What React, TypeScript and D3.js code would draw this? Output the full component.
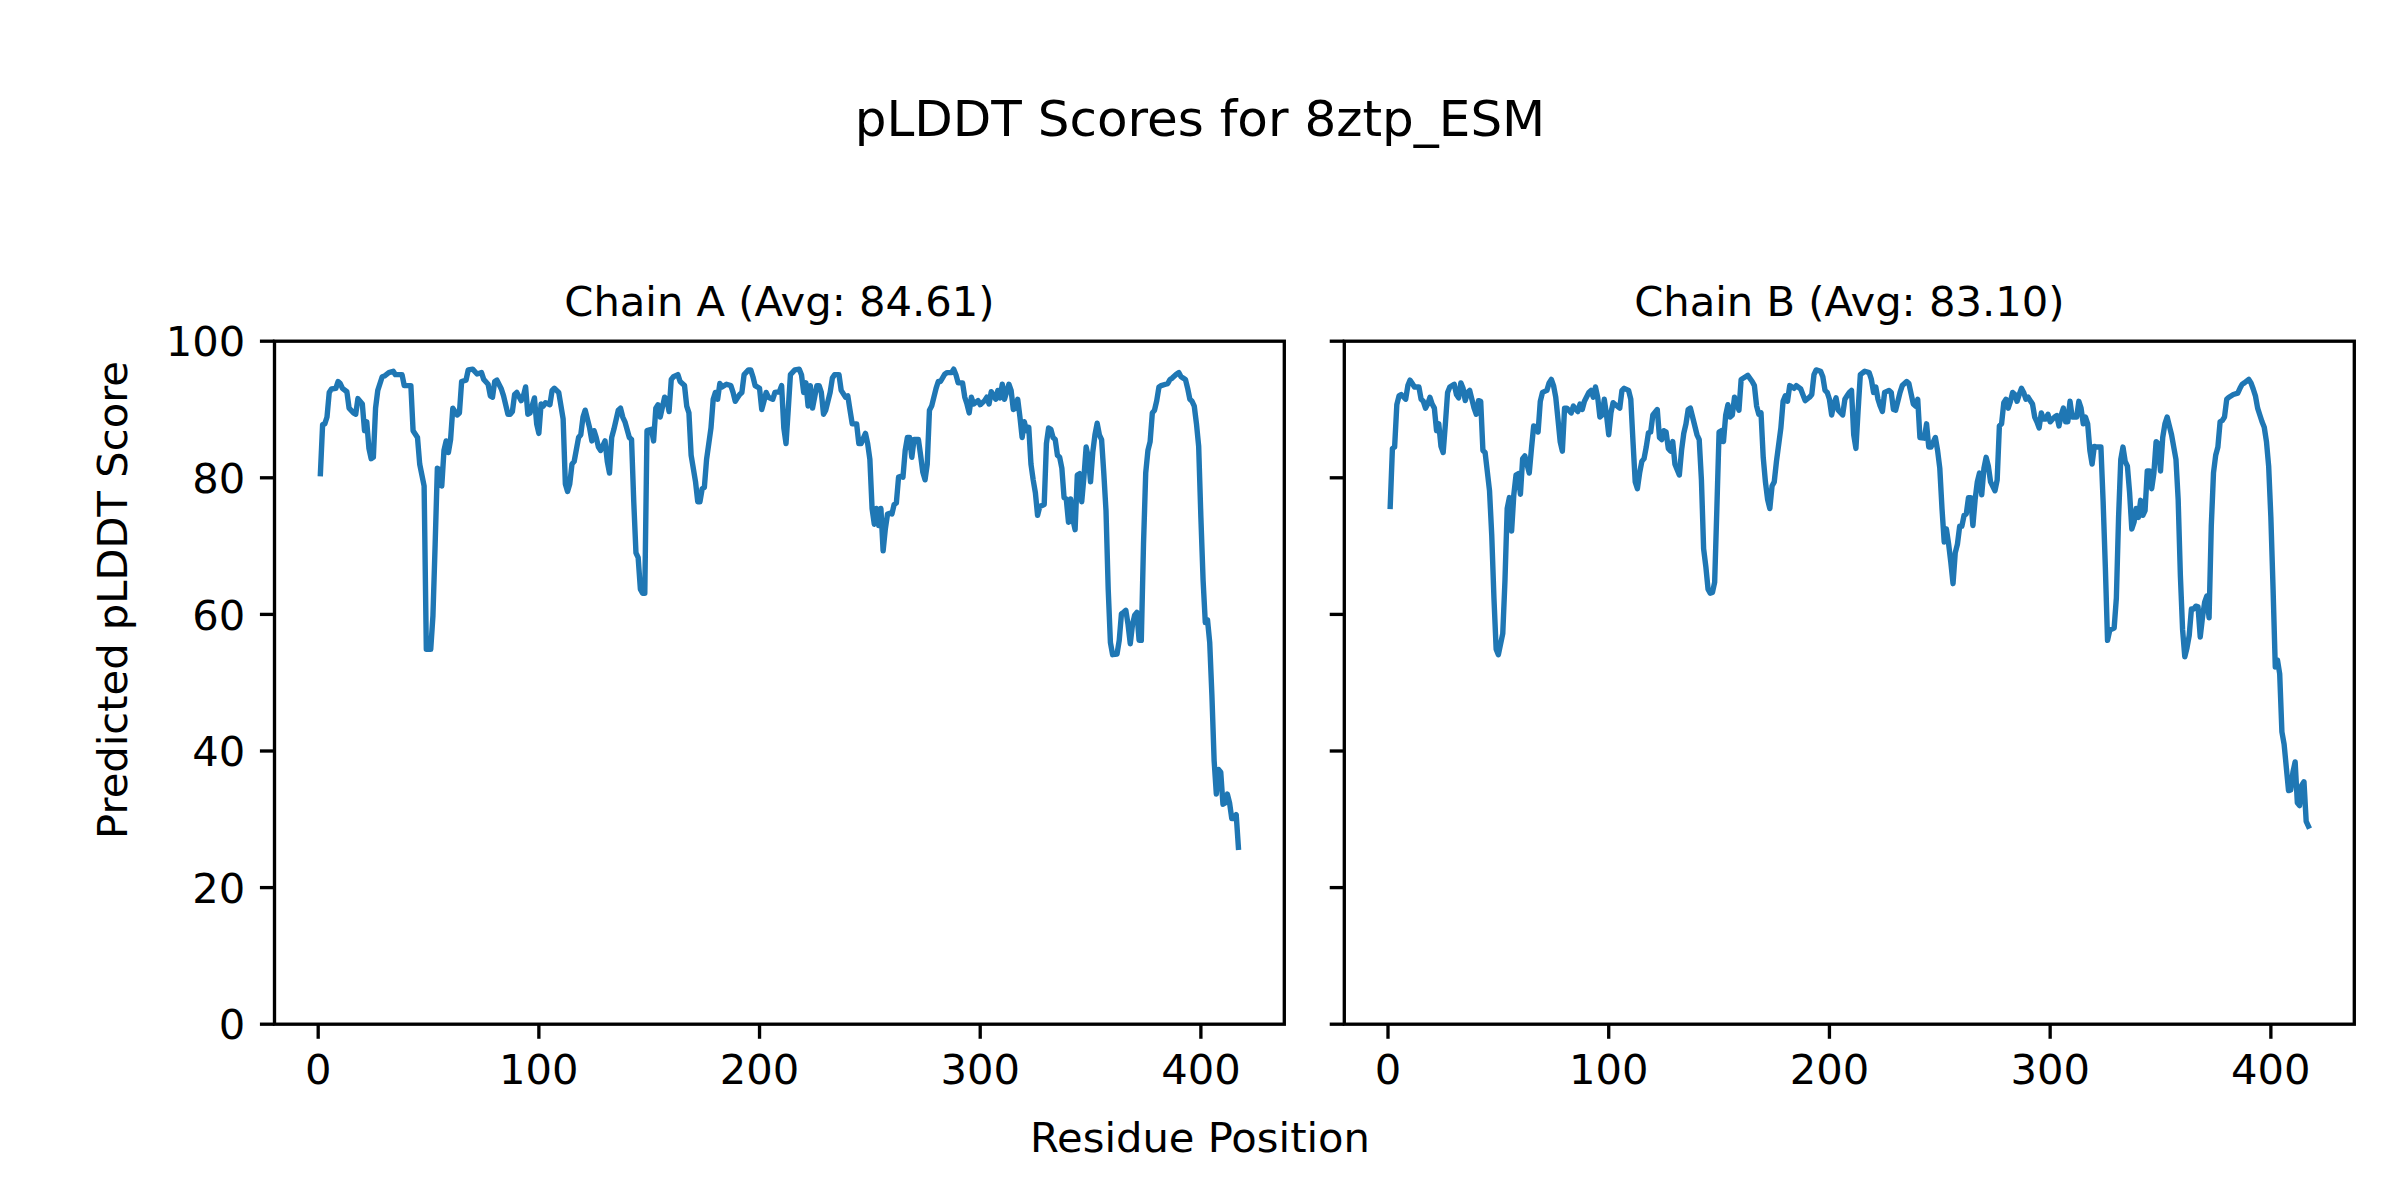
import React from 'react';
import * as d3 from 'd3';

// ---- data ----
const figureTitle = 'pLDDT Scores for 8ztp_ESM';
const chainTitles = ['Chain A (Avg: 84.61)', 'Chain B (Avg: 83.10)'];
const xLabel = 'Residue Position';
const yLabel = 'Predicted pLDDT Score';
const xTickValues = [0, 100, 200, 300, 400];
const yTickValues = [0, 20, 40, 60, 80, 100];
const residueRange = [1, 417];

// [residue, pLDDT]
const chainAPoints: [number, number][] = [[1,80.6],[2,87.8],[3,87.9],[4,88.9],[5,92.5],[6,93.0],[8,93.1],[9,94.1],[10,93.8],[11,93.1],[13,92.6],[14,90.2],[16,89.5],[17,89.3],[18,91.6],[20,90.8],[21,86.9],[22,88.2],[23,84.3],[24,82.8],[25,83.0],[26,90.2],[27,92.8],[29,94.8],[30,94.9],[32,95.4],[34,95.6],[35,95.1],[38,95.1],[39,93.5],[41,93.5],[42,93.5],[43,86.9],[45,85.9],[46,82.0],[48,78.8],[49,54.9],[51,54.9],[52,59.8],[53,70.3],[54,81.4],[55,81.2],[56,78.8],[57,84.0],[58,85.4],[59,83.7],[60,85.6],[61,90.2],[63,89.2],[64,89.5],[65,94.1],[67,94.3],[68,95.8],[70,95.9],[72,95.2],[74,95.4],[75,94.4],[77,93.7],[78,92.0],[79,91.8],[80,94.1],[81,94.3],[83,93.0],[84,92.0],[86,89.3],[87,89.3],[88,89.7],[89,92.2],[90,92.5],[92,91.3],[93,92.0],[94,93.3],[95,89.3],[96,89.5],[98,91.7],[99,87.9],[100,86.5],[101,90.8],[102,90.5],[103,91.0],[105,90.7],[106,92.8],[107,93.1],[109,92.5],[111,88.6],[112,79.1],[113,78.0],[114,79.1],[115,82.0],[116,82.4],[118,85.9],[119,86.3],[120,88.9],[121,89.9],[123,87.3],[124,85.4],[125,86.9],[126,85.9],[127,84.5],[128,84.0],[130,85.4],[131,82.4],[132,80.7],[133,85.9],[134,87.1],[136,89.9],[137,90.2],[138,88.9],[139,88.2],[141,85.9],[142,85.6],[143,76.5],[144,69.0],[145,68.3],[146,63.7],[147,63.1],[148,63.1],[149,86.9],[151,87.1],[152,85.4],[153,90.2],[154,90.7],[155,88.9],[157,91.8],[158,91.5],[159,89.7],[160,94.4],[161,94.8],[163,95.1],[164,94.1],[166,93.5],[167,90.5],[168,89.5],[169,83.3],[171,79.4],[172,76.5],[173,76.5],[174,78.4],[175,78.6],[176,82.7],[178,87.3],[179,91.5],[180,92.5],[181,91.5],[182,93.8],[183,93.3],[185,93.7],[187,93.5],[188,92.5],[189,91.2],[190,91.7],[191,92.2],[192,92.5],[193,95.1],[195,95.8],[196,95.8],[197,94.8],[198,93.5],[200,93.1],[201,90.0],[202,91.2],[203,92.5],[204,91.8],[206,91.5],[207,92.5],[209,92.6],[210,93.5],[211,87.3],[212,85.0],[213,89.9],[214,95.1],[216,95.8],[218,95.9],[219,95.1],[220,92.5],[221,93.9],[222,90.5],[223,93.5],[224,90.2],[226,93.5],[227,93.5],[228,92.5],[229,89.3],[230,89.9],[232,92.5],[233,94.6],[234,95.1],[236,95.1],[237,92.8],[239,91.8],[240,92.0],[241,89.9],[242,87.9],[244,87.9],[245,85.0],[246,85.0],[248,86.5],[249,85.0],[250,82.7],[251,75.5],[252,73.2],[253,75.5],[254,73.0],[255,75.5],[256,69.3],[257,72.5],[258,74.7],[259,74.8],[260,74.7],[261,76.1],[262,76.3],[263,80.1],[264,80.2],[265,80.1],[266,84.0],[267,85.9],[268,85.9],[269,83.0],[270,85.6],[272,85.6],[273,83.3],[274,80.8],[275,79.7],[276,82.0],[277,89.9],[278,90.5],[280,93.1],[281,94.1],[282,94.1],[284,95.2],[285,95.4],[287,95.4],[288,95.9],[289,95.1],[290,93.9],[292,93.9],[293,91.8],[294,90.8],[295,89.5],[296,91.8],[297,90.8],[299,91.3],[300,90.7],[302,91.3],[303,91.8],[304,90.8],[305,92.6],[307,91.5],[308,92.8],[309,91.7],[310,93.7],[311,91.5],[313,93.7],[314,92.8],[315,90.0],[316,90.2],[317,91.5],[318,88.9],[319,85.9],[320,88.2],[321,86.9],[322,87.4],[323,82.0],[324,79.7],[325,77.8],[326,74.5],[327,75.8],[329,76.1],[330,85.0],[331,87.3],[332,87.1],[333,85.9],[334,85.6],[335,83.3],[336,83.0],[337,81.4],[338,77.1],[339,76.9],[340,73.5],[341,76.9],[342,73.9],[343,72.4],[344,80.4],[345,80.6],[346,76.5],[347,80.1],[348,84.5],[349,83.0],[350,79.4],[351,83.7],[352,86.3],[353,88.0],[354,86.3],[355,85.6],[356,80.7],[357,75.2],[358,63.7],[359,55.9],[360,54.1],[362,54.2],[363,56.2],[364,60.1],[365,60.3],[366,60.6],[367,58.5],[368,55.7],[369,58.5],[370,59.9],[371,60.3],[372,56.2],[373,56.2],[374,70.3],[375,80.7],[376,84.0],[377,85.3],[378,89.5],[379,89.9],[380,91.3],[381,93.3],[382,93.5],[384,93.7],[385,93.8],[386,94.4],[387,94.6],[389,95.2],[390,95.4],[391,94.8],[392,94.6],[393,94.4],[394,93.1],[395,91.5],[396,91.2],[397,90.5],[398,87.9],[399,84.6],[400,74.2],[401,65.0],[402,58.8],[403,59.2],[404,55.9],[405,48.1],[406,38.6],[407,33.7],[408,37.3],[409,36.9],[410,32.2],[411,32.4],[412,33.7],[413,32.4],[414,30.1],[415,30.1],[416,30.7],[417,25.9]];

const chainBPoints: [number, number][] = [[1,75.8],[2,84.3],[3,84.5],[4,90.7],[5,92.0],[6,92.2],[8,91.5],[9,93.5],[10,94.3],[11,93.8],[12,93.3],[14,93.3],[15,91.5],[16,91.2],[17,90.2],[18,90.8],[19,91.8],[20,90.8],[21,90.2],[22,86.9],[23,87.9],[24,84.6],[25,83.7],[26,87.9],[27,92.5],[28,93.3],[30,93.7],[31,92.2],[32,91.7],[33,93.9],[34,93.1],[35,91.3],[36,92.5],[37,92.8],[39,90.2],[40,89.3],[41,91.3],[42,91.2],[43,84.0],[44,83.7],[46,78.1],[47,71.6],[48,62.4],[49,54.9],[50,54.1],[52,57.2],[53,65.0],[54,75.5],[55,77.1],[56,72.2],[57,77.5],[58,80.4],[59,80.6],[60,77.6],[61,82.8],[62,83.2],[64,80.7],[65,84.3],[66,87.6],[67,87.4],[68,86.7],[69,91.2],[70,92.5],[72,92.8],[73,93.9],[74,94.4],[75,93.5],[76,91.8],[77,88.6],[78,85.3],[79,83.9],[80,90.2],[81,90.2],[83,89.5],[84,90.5],[86,89.7],[87,90.8],[88,90.0],[89,91.2],[91,92.5],[92,92.8],[93,91.8],[94,93.3],[95,91.8],[96,88.9],[97,89.2],[98,91.5],[99,89.2],[100,86.3],[101,89.5],[102,91.0],[103,90.7],[105,90.2],[106,92.8],[107,93.1],[109,92.8],[110,91.5],[111,85.3],[112,79.4],[113,78.4],[114,80.7],[115,82.4],[116,82.8],[117,84.5],[118,86.6],[119,86.7],[120,89.2],[122,90.0],[123,85.9],[124,85.6],[125,86.9],[126,86.7],[127,84.3],[128,83.9],[129,85.3],[130,82.0],[132,80.4],[133,84.0],[134,86.5],[135,87.9],[136,90.0],[137,90.2],[138,88.9],[140,86.3],[141,85.6],[142,79.7],[143,69.6],[144,67.0],[145,63.7],[146,63.1],[147,63.2],[148,64.7],[149,75.5],[150,86.7],[151,86.9],[152,85.3],[153,89.2],[154,90.7],[155,88.9],[156,89.2],[157,91.8],[158,90.8],[159,89.9],[160,94.4],[162,94.8],[163,95.0],[165,94.1],[166,93.5],[167,90.5],[168,89.3],[169,89.5],[170,83.0],[171,79.4],[172,76.8],[173,75.5],[174,78.8],[175,79.4],[176,82.4],[178,87.3],[179,91.2],[180,92.0],[181,91.2],[182,93.5],[184,93.1],[185,93.5],[187,93.0],[189,91.3],[191,91.8],[192,92.2],[193,95.1],[194,95.8],[196,95.6],[197,94.8],[198,92.8],[199,92.5],[200,91.5],[201,89.2],[202,90.8],[203,91.7],[204,89.9],[206,89.2],[207,91.5],[208,92.0],[209,92.5],[210,92.8],[211,86.3],[212,84.3],[213,89.9],[214,95.1],[216,95.6],[218,95.4],[219,94.4],[220,92.5],[221,93.3],[222,91.5],[223,90.5],[224,89.7],[225,92.5],[227,92.8],[228,92.5],[229,90.0],[230,89.9],[232,92.5],[233,93.5],[235,94.1],[236,93.8],[238,90.8],[239,90.5],[240,91.5],[241,85.9],[243,85.8],[244,87.9],[245,84.5],[246,84.5],[248,85.9],[249,84.0],[250,81.4],[251,75.5],[252,70.6],[253,72.5],[254,70.3],[255,67.6],[256,64.5],[257,69.0],[258,70.3],[259,72.9],[260,72.9],[261,74.5],[262,74.7],[263,77.1],[264,77.1],[265,73.0],[266,76.8],[267,79.4],[268,80.7],[269,77.5],[270,81.4],[271,83.0],[272,81.7],[273,79.4],[275,78.1],[276,79.7],[277,87.6],[278,87.9],[279,91.0],[280,91.5],[281,90.2],[282,91.2],[283,92.5],[284,92.2],[285,91.2],[286,92.2],[287,93.1],[288,92.5],[289,91.5],[290,91.8],[292,90.8],[293,88.9],[294,88.2],[295,87.3],[296,89.5],[297,88.6],[298,88.6],[299,89.3],[300,88.2],[302,88.9],[303,89.1],[304,87.6],[305,89.2],[306,90.2],[307,88.2],[308,88.2],[309,91.2],[310,88.9],[312,88.9],[313,91.2],[314,90.2],[315,87.9],[316,88.9],[317,87.9],[318,84.0],[319,82.0],[320,84.6],[321,84.5],[323,84.5],[324,76.5],[325,67.0],[326,56.2],[327,57.7],[329,58.0],[330,62.4],[331,74.2],[332,82.7],[333,84.5],[334,82.4],[335,81.7],[336,77.8],[337,72.5],[338,73.5],[339,75.5],[340,74.2],[341,76.7],[342,74.5],[343,75.2],[344,81.0],[345,81.0],[346,78.4],[347,80.7],[348,85.3],[349,85.0],[350,81.0],[351,85.9],[352,87.9],[353,88.9],[354,87.6],[355,86.3],[357,82.7],[358,76.8],[359,65.7],[360,57.8],[361,53.8],[362,55.1],[363,56.9],[364,60.8],[365,60.8],[366,61.2],[367,61.1],[368,56.7],[369,59.5],[370,61.8],[371,62.7],[372,59.5],[373,72.9],[374,80.7],[375,83.3],[376,84.5],[377,88.2],[378,88.4],[379,88.9],[380,91.5],[381,91.8],[383,92.2],[385,92.4],[386,93.1],[387,93.7],[388,93.9],[390,94.4],[391,93.9],[392,93.0],[393,92.0],[394,90.2],[395,89.2],[396,88.2],[397,87.4],[398,85.3],[399,81.7],[400,74.2],[401,63.7],[402,52.3],[403,53.3],[404,51.3],[405,42.8],[406,41.0],[407,37.6],[408,34.2],[409,34.3],[410,36.9],[411,38.4],[412,32.4],[413,32.0],[414,35.0],[415,35.5],[416,29.7],[417,29.0]];

// ---- layout ----
const W = 2400;
const H = 1200;
const TOP = 341.2;
const BOTTOM = 1024.2;
const panelEdges = [
  [274.5, 1284.3],
  [1344.3, 2354.3],
];
const FONT = '"DejaVu Sans", "Liberation Sans", sans-serif';
const FS = 41.67;
const TICK_LEN = 14.58;
const PAD = 14.58;
const LINE_COLOR = '#1f77b4';

const span = residueRange[1] - residueRange[0];
const xDomain = [residueRange[0] - 0.05 * span, residueRange[1] + 0.05 * span];
const yScale = d3.scaleLinear().domain([0, 100]).range([BOTTOM, TOP]);

function Panel({ points, title, edges, showYLabels }: { points: [number, number][]; title: string; edges: number[]; showYLabels: boolean }) {
  const xScale = d3.scaleLinear().domain(xDomain).range(edges);
  const line = d3
    .line<[number, number]>()
    .x((d) => xScale(d[0]))
    .y((d) => yScale(d[1]));
  const [l, r] = edges;
  return (
    <g>
      <path d={line(points) || ''} fill="none" stroke={LINE_COLOR} strokeWidth={5.4} strokeLinejoin="round" strokeLinecap="square" />
      <rect x={l} y={TOP} width={r - l} height={BOTTOM - TOP} fill="none" stroke="#000" strokeWidth={3.33} />
      {xTickValues.map((t) => (
        <g key={'x' + t}>
          <line x1={xScale(t)} x2={xScale(t)} y1={BOTTOM} y2={BOTTOM + TICK_LEN} stroke="#000" strokeWidth={3.33} />
          <text x={xScale(t)} y={BOTTOM + TICK_LEN + PAD + 30.4} textAnchor="middle" fontFamily={FONT} fontSize={FS} fill="#000">
            {t}
          </text>
        </g>
      ))}
      {yTickValues.map((t) => (
        <g key={'y' + t}>
          <line x1={l - TICK_LEN} x2={l} y1={yScale(t)} y2={yScale(t)} stroke="#000" strokeWidth={3.33} />
          {showYLabels && (
            <text x={l - TICK_LEN - PAD} y={yScale(t) + 15.2} textAnchor="end" fontFamily={FONT} fontSize={FS} fill="#000">
              {t}
            </text>
          )}
        </g>
      ))}
      <text x={(l + r) / 2} y={TOP - 25} textAnchor="middle" fontFamily={FONT} fontSize={FS} fill="#000">
        {title}
      </text>
    </g>
  );
}

export default function App() {
  const chains = [chainAPoints, chainBPoints];
  return (
    <svg width={W} height={H} viewBox={`0 0 ${W} ${H}`} style={{ position: 'absolute', left: 0, top: 0, background: '#fff' }}>
      <rect x={0} y={0} width={W} height={H} fill="#fff" />
      <text x={W / 2} y={136} textAnchor="middle" fontFamily={FONT} fontSize={50} fill="#000">
        {figureTitle}
      </text>
      {chains.map((pts, i) => (
        <Panel key={i} points={pts} title={chainTitles[i]} edges={panelEdges[i]} showYLabels={i === 0} />
      ))}
      <text x={W / 2} y={1152} textAnchor="middle" fontFamily={FONT} fontSize={FS} fill="#000">
        {xLabel}
      </text>
      <text x={127} y={600} transform="rotate(-90 127 600)" textAnchor="middle" fontFamily={FONT} fontSize={FS} fill="#000">
        {yLabel}
      </text>
    </svg>
  );
}
